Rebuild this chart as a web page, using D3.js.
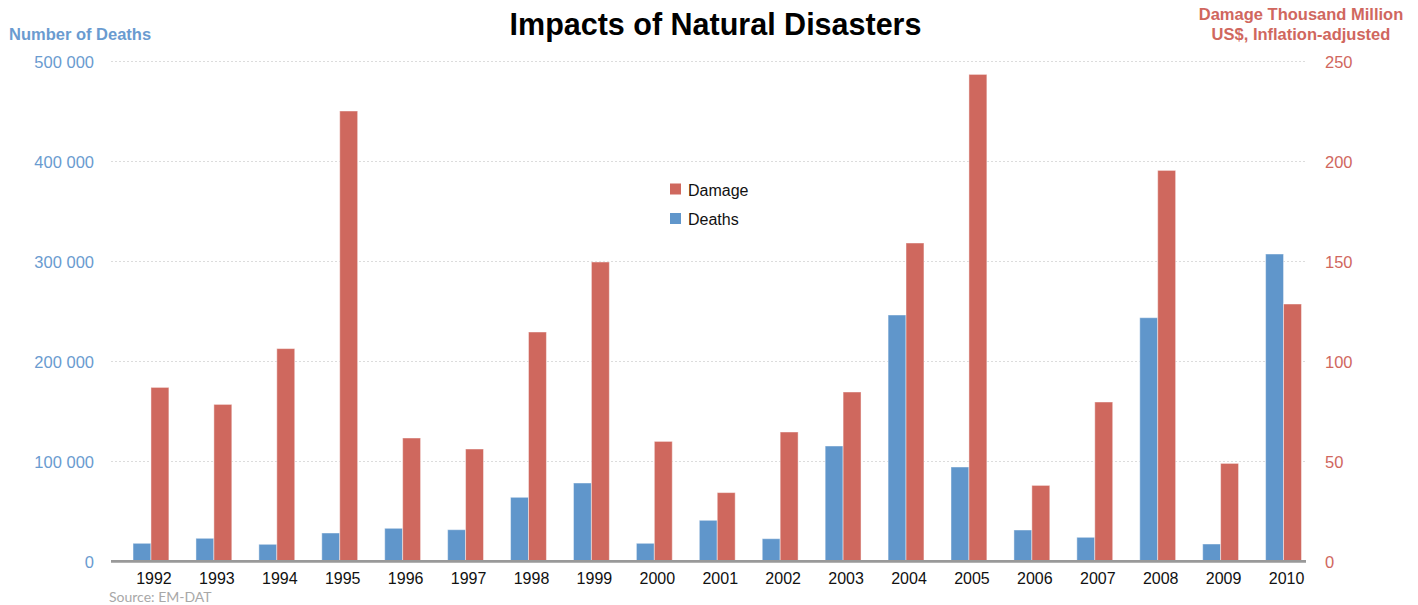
<!DOCTYPE html>
<html>
<head>
<meta charset="utf-8">
<script src="https://cdn.jsdelivr.net/npm/d3@7"></script>
<style>
  body { margin: 0; background: #fff; }
  svg { display: block; font-family: "Liberation Sans", Arial, sans-serif; }
</style>
</head>
<body>
<div id="chart"></div>
<script>
const years = ["1992", "1993", "1994", "1995", "1996", "1997", "1998", "1999", "2000", "2001",
  "2002", "2003", "2004", "2005", "2006", "2007", "2008", "2009", "2010"];
const deaths = [17700, 22700, 16700, 28000, 32700, 31300, 63700, 78000, 17700, 40700,
  22300, 115000, 246000, 94000, 31000, 23700, 243300, 17000, 307000];
const damage = [86.8, 78.3, 106.2, 225, 61.5, 56, 114.5, 149.5, 59.8, 34.2,
  64.5, 84.5, 159, 243.3, 37.8, 79.5, 195.3, 48.8, 128.5];
const deathTicks = [0, 100000, 200000, 300000, 400000, 500000];
const damageTicks = [0, 50, 100, 150, 200, 250];

const blue = "#6096cb";
const red = "#cf685e";
const width = 1418, height = 605;

const svg = d3.select("#chart").append("svg")
  .attr("width", width).attr("height", height);

const plot = { left: 111, right: 1306, top: 61, bottom: 561 };

const x0 = d3.scaleBand().domain(years)
  .range([119.5, 1315]).paddingInner(0.43).paddingOuter(0.215);
const x1 = d3.scaleBand().domain(["Deaths", "Damage"]).range([0, x0.bandwidth()]);
const yL = d3.scaleLinear().domain([0, 500000]).range([plot.bottom, plot.top]);
const yR = d3.scaleLinear().domain([0, 250]).range([plot.bottom, plot.top]);

const fmt = d3.formatLocale({ decimal: ".", thousands: " ", grouping: [3], currency: ["", ""] }).format(",");

// grid lines
svg.append("g")
  .selectAll("line")
  .data(deathTicks.filter(d => d > 0))
  .join("line")
  .attr("x1", plot.left).attr("x2", plot.right)
  .attr("y1", d => yL(d) + 0.5).attr("y2", d => yL(d) + 0.5)
  .attr("stroke", "#dcdcdc").attr("stroke-dasharray", "2,2");

// bars
const rows = years.map((y, i) => ({ year: y, Deaths: deaths[i], Damage: damage[i] }));
const groups = svg.append("g").selectAll("g")
  .data(rows)
  .join("g")
  .attr("transform", d => `translate(${x0(d.year)},0)`);

groups.append("rect")
  .attr("x", x1("Deaths")).attr("width", x1.bandwidth())
  .attr("y", d => yL(d.Deaths)).attr("height", d => yL(0) - yL(d.Deaths))
  .attr("fill", blue).attr("stroke", "rgba(255,255,255,0.45)").attr("stroke-width", 1);

groups.append("rect")
  .attr("x", x1("Damage")).attr("width", x1.bandwidth())
  .attr("y", d => yR(d.Damage)).attr("height", d => yR(0) - yR(d.Damage))
  .attr("fill", red).attr("stroke", "rgba(255,255,255,0.45)").attr("stroke-width", 1);

// baseline
svg.append("line")
  .attr("x1", plot.left).attr("x2", plot.right)
  .attr("y1", plot.bottom + 0.3).attr("y2", plot.bottom + 0.3)
  .attr("stroke", "#999").attr("stroke-width", 2.8);

// x axis labels
const xAxis = svg.append("g")
  .attr("transform", `translate(3,${plot.bottom + 12})`)
  .call(d3.axisBottom(x0).tickSize(0).tickPadding(0));
xAxis.select(".domain").remove();
xAxis.selectAll("text").attr("font-size", 16).attr("fill", "#111")
  .attr("font-family", "Liberation Sans, Arial, sans-serif");

// left axis
const left = svg.append("g")
  .attr("transform", `translate(94,1)`)
  .call(d3.axisLeft(yL).tickValues(deathTicks).tickSize(0).tickPadding(0).tickFormat(fmt));
left.select(".domain").remove();
left.selectAll("text").attr("font-size", 16.5).attr("fill", "#6a9bd0")
  .attr("font-family", "Liberation Sans, Arial, sans-serif");

// right axis
const right = svg.append("g")
  .attr("transform", `translate(1325,1)`)
  .call(d3.axisRight(yR).tickValues(damageTicks).tickSize(0).tickPadding(0));
right.select(".domain").remove();
right.selectAll("text").attr("font-size", 16.5).attr("fill", "#d0675e")
  .attr("font-family", "Liberation Sans, Arial, sans-serif");

// titles
svg.append("text")
  .attr("x", 715.5).attr("y", 35)
  .attr("text-anchor", "middle")
  .attr("font-size", 30.5).attr("font-weight", "bold").attr("fill", "#000")
  .text("Impacts of Natural Disasters");

svg.append("text")
  .attr("x", 9).attr("y", 40)
  .attr("font-size", 16.5).attr("font-weight", "bold").attr("fill", "#6a9bd0")
  .text("Number of Deaths");

const rt = svg.append("text")
  .attr("text-anchor", "middle")
  .attr("font-size", 16.5).attr("font-weight", "bold").attr("fill", "#d0675e");
rt.append("tspan").attr("x", 1301).attr("y", 19.5).text("Damage Thousand Million");
rt.append("tspan").attr("x", 1301).attr("y", 40).text("US$, Inflation-adjusted");

// legend
const legendItems = [["Damage", red], ["Deaths", blue]];
const legend = svg.append("g").selectAll("g")
  .data(legendItems)
  .join("g")
  .attr("transform", (d, i) => `translate(670,${183.5 + i * 29.5})`);
legend.append("rect").attr("width", 11).attr("height", 11).attr("fill", d => d[1]);
legend.append("text").attr("x", 18).attr("y", 12)
  .attr("font-size", 16).attr("fill", "#111")
  .text(d => d[0]);

// source
svg.append("text")
  .attr("x", 109).attr("y", 602)
  .attr("font-family", "Lato, 'Open Sans', sans-serif")
  .attr("font-size", 14).attr("fill", "#a8a8a8")
  .text("Source: EM-DAT");
</script>
</body>
</html>
